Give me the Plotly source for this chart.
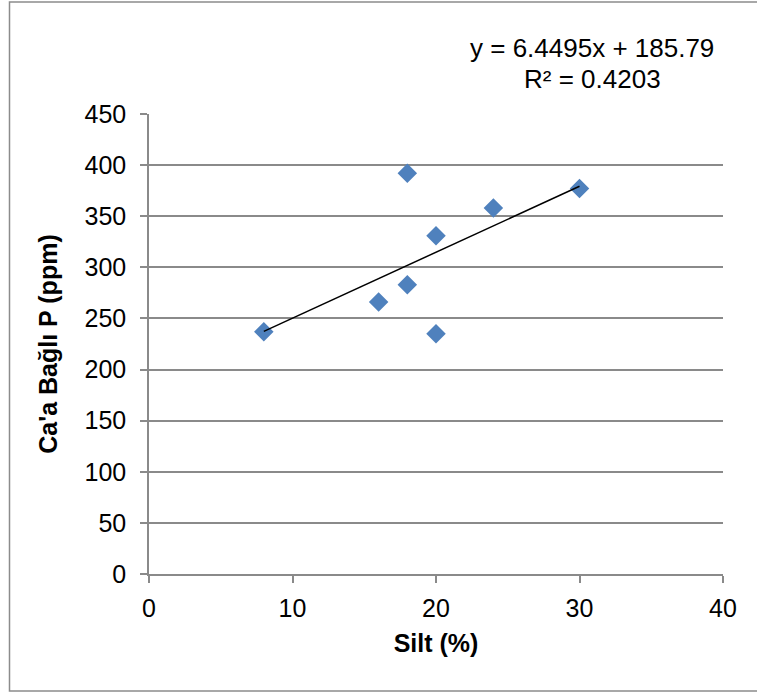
import numpy as np
import plotly.graph_objects as go

# ---- data ----
silt = [8, 16, 18, 18, 20, 20, 24, 30]
ca_p = [237, 266, 283, 392, 331, 235, 358, 377]
trend_slope = 6.4495
trend_intercept = 185.79
r_squared = 0.4203
x_ticks = [0, 10, 20, 30, 40]
y_ticks = [0, 50, 100, 150, 200, 250, 300, 350, 400, 450]

W, H = 757, 695
ML, MR, MT, MB = 149, 34, 114, 121
pw, ph = W - ML - MR, H - MT - MB

def px_x(p):
    return (p - ML) / pw

def px_y(p):
    return (H - MB - p) / ph

FONT = "Liberation Sans, Arial, sans-serif"
GRID = "#8a8a8a"

tx = np.array([min(silt), max(silt)])
ty = trend_slope * tx + trend_intercept

fig = go.Figure()
fig.add_trace(go.Scatter(
    x=silt, y=ca_p, mode="markers",
    marker=dict(symbol="diamond", size=15, color="#4F81BD",
                line=dict(width=0)),
    showlegend=False, hoverinfo="x+y"))
fig.add_trace(go.Scatter(
    x=tx, y=ty, mode="lines",
    line=dict(color="black", width=1.5),
    showlegend=False, hoverinfo="skip"))

fig.update_layout(
    width=W, height=H,
    margin=dict(l=ML, r=MR, t=MT, b=MB, pad=0),
    paper_bgcolor="white", plot_bgcolor="white",
    font=dict(family=FONT, size=25, color="black"),
    xaxis=dict(
        range=[0, 40], tickvals=x_ticks, showgrid=False, zeroline=False,
        showline=True, linecolor=GRID, linewidth=1.5,
        ticks="outside", ticklen=7, tickwidth=1.5, tickcolor=GRID,
        ticklabelstandoff=4,
        title=dict(text="<b>Silt (%)</b>", font=dict(size=25), standoff=14),
    ),
    yaxis=dict(
        range=[0, 450], tickvals=y_ticks, showgrid=True, gridcolor=GRID,
        gridwidth=1.5, zeroline=False,
        showline=True, linecolor=GRID, linewidth=1.5,
        ticks="outside", ticklen=7, tickwidth=1.5, tickcolor=GRID,
        ticklabelstandoff=9,
        title=dict(text="<b>Ca'a Bağlı P (ppm)</b>", font=dict(size=25), standoff=20),
    ),
    shapes=[dict(type="rect", xref="paper", yref="paper",
                 x0=px_x(9.5), x1=px_x(800), y0=px_y(691), y1=px_y(2),
                 line=dict(color="#8c8c8c", width=1.5), fillcolor="rgba(0,0,0,0)",
                 layer="below")],
    annotations=[
        dict(xref="paper", yref="paper", x=px_x(592), y=px_y(48),
             text=f"y = {trend_slope}x + {trend_intercept}", showarrow=False,
             xanchor="center", yanchor="middle", font=dict(size=26)),
        dict(xref="paper", yref="paper", x=px_x(592), y=px_y(79),
             text=f"R² = {r_squared}", showarrow=False,
             xanchor="center", yanchor="middle", font=dict(size=26)),
    ],
)

fig.write_html("out.html")
